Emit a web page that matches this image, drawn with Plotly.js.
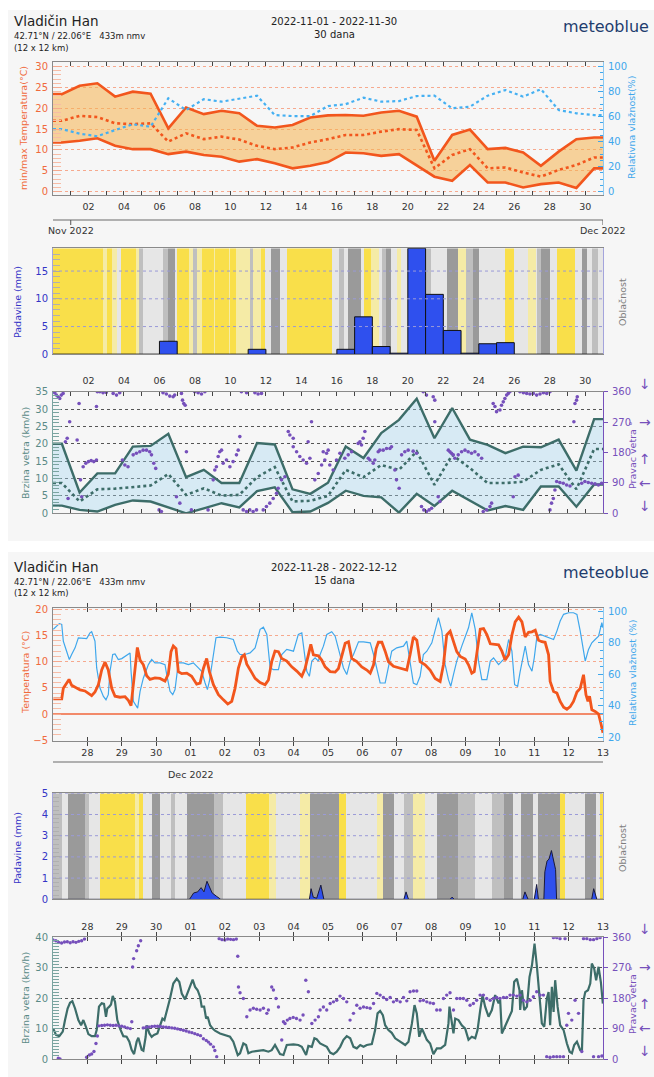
<!DOCTYPE html>
<html><head><meta charset="utf-8">
<script src="https://cdn.plot.ly/plotly-3.0.1.min.js"></script>
<style>html,body{margin:0;padding:0;background:#fff;}#chart{width:654px;height:1077px;}</style>
</head><body><div id="chart"></div>
<script>
// ================= DATA =================
// --- Top chart: 30-day overview, daily values at noon (Oct 31 .. Nov 30) ---
const topTickText = ['02','04','06','08','10','12','14','16','18','20','22','24','26','28','30'];
const tempMax  = [23.4,25.4,26.0,22.8,24.0,23.5,15.2,20.2,18.6,19.4,18.8,15.8,15.4,16.0,17.8,18.3,18.4,18.2,19.0,19.4,18.0,7.4,13.6,14.9,10.2,10.5,9.4,6.2,9.6,12.6,13.0];
const tempMin  = [11.8,12.2,12.8,11.0,10.2,10.2,9.0,9.6,8.8,8.4,7.2,7.8,6.8,5.6,6.2,7.1,9.4,9.2,8.6,9.0,6.4,3.6,2.6,6.4,2.2,2.2,1.0,1.8,2.2,0.9,5.6];
const tempMean = [17.0,18.2,17.9,16.4,16.2,16.4,12.0,14.0,12.6,13.2,12.5,11.0,10.2,10.6,11.8,12.6,13.6,13.6,14.4,15.0,14.8,5.6,8.8,10.2,5.6,5.8,4.6,3.6,5.2,6.4,8.2];
const humidity = [50,46.4,44.3,49.3,53.9,52,74.7,65.3,74,72,74.7,76.8,61.3,60.5,60.5,68.5,70,75.2,72,72.5,76.5,76.8,66.7,68,76.8,81.3,76,82,65.3,62.7,61.3];
const precipDaily = [0,0,0,0,0,0,2.35,0,0,0,0,0.9,0,0,0,0,0.9,6.75,1.4,0.2,19.1,10.8,4.3,0.2,1.9,2.1,0,0,0,0,0];
const windMax  = [20,6.0,11.5,11.5,19.2,19.4,22.9,10.4,12.5,8.7,8.7,20.2,19.8,6.9,5.6,8.8,19.2,15.9,23.1,26.9,33,21.6,30.3,21.2,19.7,17.3,19.2,19.0,21.2,12.3,27.1];
const windMin  = [2.2,1.0,0.5,2.4,3.7,3.4,1.7,0,1.4,2.9,1.7,6.4,7.5,0.3,0.5,3.0,6.5,5.0,4.6,0.2,5.6,2.1,6.5,3.7,0.8,2.1,1.0,7.7,7.7,1.9,8.3];
const windMean = [8.7,3.4,6.9,7.1,7.5,8.0,11.3,5.3,7.2,5.1,5.3,10.4,13.3,3.4,3.6,5.0,12.5,10.4,13.9,12.5,17.8,8.2,16.8,13.0,8.7,8.7,9.1,12.5,14.1,6.9,18.5];
// cloud cover stripes: start (days from Nov 1 00:00) and level 0=clear .. 4=overcast
const cloudTopStart = [-1,1.8,2.05,2.35,2.6,2.84,3.65,3.85,4.1,5.2,5.46,5.87,5.97,6.67,6.9,7.1,7.38,8.05,8.15,8.9,9.0,9.3,10.1,10.3,10.7,10.95,11.3,11.8,12.2,14.7,15.1,15.4,15.6,16.35,16.55,16.9,17.4,17.55,17.75,18.05,18.4,18.6,19.9,20.3,21.2,21.8,22.3,22.7,23.0,24.5,25.0,25.8,26.2,26.3,26.5,27.0,27.4,28.4,28.8,29.1,29.4,29.7];
const cloudTopLevel = [0,1,0,1,2,0,1,3,2,3,4,2,0,1,3,1,0,1,0,1,0,1,3,1,0,2,4,2,0,2,3,2,4,2,0,1,2,3,4,2,1,2,3,2,4,1,3,4,2,0,2,1,2,3,4,2,0,2,4,2,3,2];
// wind direction samples [days from Nov 1 00:00, degrees]
const windDirTop = [[-0.9,357],[-0.81,350],[-0.71,345],[-0.62,340],[-0.53,350],[-0.43,355],[-0.3,212],[-0.2,222],[-0.15,44],[-0.06,271],[0.36,217],[0.47,325],[0.55,99],[0.62,49],[0.7,138],[0.85,148],[1.0,153],[1.15,156],[1.3,153],[1.45,158],[1.45,316],[1.5,360],[1.64,360],[1.82,357],[2.0,358],[2.39,355],[2.58,350],[2.76,357],[2.91,158],[3.05,143],[3.23,138],[3.52,173],[3.7,178],[3.89,182],[4.08,187],[4.27,187],[4.45,182],[4.55,173],[4.68,148],[4.79,133],[4.98,10],[5.11,5],[5.2,357],[5.39,353],[5.58,347],[5.77,345],[5.86,350],[5.96,49],[6.15,30],[6.24,355],[6.3,335],[6.37,325],[6.45,320],[6.52,182],[6.8,10],[6.99,360],[7.18,357],[7.37,353],[7.56,360],[7.74,10],[8.03,99],[8.12,128],[8.21,138],[8.31,168],[8.4,182],[8.5,187],[8.59,148],[8.78,158],[8.97,138],[9.15,153],[9.34,173],[9.44,187],[9.53,227],[9.62,360],[9.72,10],[9.91,357],[9.91,5],[10.09,10],[10.28,5],[10.38,357],[10.47,10],[10.56,353],[10.75,355],[10.85,10],[11.03,20],[11.22,30],[11.41,44],[11.6,59],[11.69,74],[11.88,99],[12.07,108],[12.26,242],[12.35,232],[12.54,222],[12.54,197],[12.73,182],[12.91,168],[13.1,158],[13.29,148],[13.38,212],[13.48,163],[13.57,271],[13.76,99],[13.95,118],[14.14,143],[14.23,182],[14.32,158],[14.42,178],[14.51,187],[14.6,143],[14.79,128],[14.98,158],[15.17,178],[15.45,163],[15.64,173],[15.83,182],[16.2,207],[16.3,212],[16.39,202],[16.48,222],[16.58,242],[16.77,163],[16.86,158],[17.05,148],[17.14,158],[17.33,182],[17.42,187],[17.61,187],[17.8,192],[17.99,192],[18.08,197],[18.27,128],[18.36,99],[18.51,74],[18.65,173],[18.83,182],[19.02,187],[19.3,184],[19.49,178],[19.77,20],[19.87,360],[19.9,10],[20.05,5],[20.05,350],[20.2,10],[20.34,15],[20.43,345],[20.52,335],[20.52,271],[20.71,49],[20.81,35],[21.28,187],[21.37,182],[21.46,178],[21.56,173],[21.65,163],[21.84,173],[22.03,182],[22.22,187],[22.4,182],[22.59,178],[22.78,182],[22.97,173],[23.16,163],[23.25,5],[23.44,10],[23.63,20],[23.72,30],[23.81,325],[23.91,316],[24.0,301],[24.19,306],[24.28,320],[24.38,330],[24.47,340],[24.57,350],[24.66,355],[24.75,360],[24.94,49],[25.04,108],[25.22,113],[25.32,360],[25.51,357],[25.7,355],[25.88,353],[26.07,355],[26.26,350],[26.45,353],[26.64,357],[26.83,355],[27.01,360],[27.01,10],[27.1,30],[27.2,44],[27.29,69],[27.39,94],[27.57,91],[27.76,89],[27.95,84],[28.14,81],[28.36,271],[28.42,325],[28.51,335],[28.55,345],[28.8,89],[28.98,94],[29.17,91],[29.36,89],[29.55,87],[29.74,84],[29.92,89]];

// --- Bottom chart: 15-day hourly, [hours from Nov 27 00:00, value] ---
const botTickText = ['28','29','30','01','02','03','04','05','06','07','08','09','10','11','12','13'];
const tempHourly = [[0.2,2.9],[6.1,2.9],[7.2,4.9],[9.5,5.9],[11.2,6.6],[13,5.5],[15.4,5.1],[18.9,4.6],[22.3,4.4],[24.7,4.0],[27,3.5],[29.3,4.2],[31.7,5.6],[34,8.4],[36.3,9.9],[38.6,8.4],[41,4.9],[43.3,3.4],[46.8,3.2],[50.3,3.3],[52.6,2.6],[54.5,1.6],[55.6,4.6],[57.3,8.7],[58.9,12.7],[60.8,10.3],[63.1,9.4],[65.4,7.3],[67.7,6.6],[71.2,6.9],[74.7,6.8],[78.2,6.3],[80.5,7.6],[82.4,11.9],[84,13.0],[85.9,12.5],[87.5,8.1],[89.9,7.7],[93.4,7.8],[96.8,7.2],[100.3,5.7],[102.7,5.9],[105,8.7],[107.3,10.6],[109.2,8.1],[112,5.6],[115.5,3.7],[119,2.7],[122,1.9],[124.8,2.4],[127.1,4.9],[129.4,8.7],[131.8,10.9],[133.6,11.3],[135.3,9.5],[138.8,7.9],[141.1,6.8],[144.6,6.0],[148.1,5.6],[150.4,6.5],[152.7,10.0],[155,12.0],[157.4,11.9],[159.7,10.6],[163.2,10.1],[166.7,9.0],[170.2,8.2],[173.7,7.2],[176,8.7],[178.3,11.3],[180,13.3],[181.8,11.3],[185.3,11.1],[187.6,10.3],[190,9.0],[193.5,8.1],[197,8.0],[199.3,8.7],[201.6,11.3],[204,13.5],[206.3,13.8],[208.6,10.6],[212.1,10.0],[215.6,9.0],[219.1,8.4],[221.5,7.8],[223.8,9.4],[225.6,12.5],[227.2,13.7],[229.6,13.7],[231.9,12.0],[234.2,10.0],[237.7,9.1],[242.3,8.7],[247,8.4],[249.3,11.3],[251.6,14.7],[254,14.1],[256.3,10.0],[259.8,9.4],[263.3,8.4],[266.8,6.8],[270.3,6.2],[272.6,9.4],[274.9,15.1],[277.3,15.8],[279.6,13.8],[281.9,11.9],[284.3,11.0],[287.8,10.5],[290.1,9.4],[292.4,7.8],[294.1,8.1],[296,11.9],[298.3,16.2],[300.6,16.3],[303,15.1],[305.3,13.4],[307.6,13.3],[311.1,13.2],[313.4,12.0],[315.7,10.3],[318.1,11.3],[320.4,15.1],[322.7,17.6],[325.1,18.5],[327.4,17.6],[329.7,14.7],[332,15.6],[334.4,15.7],[336.7,16.0],[339,14.1],[341.3,13.8],[343.6,13.7],[346,11.3],[347.1,6.2],[349.5,4.3],[351.8,4.0],[354.1,2.4],[356.5,1.3],[358.8,0.9],[361.1,1.4],[363.4,2.4],[365.8,4.2],[368.1,4.9],[370.4,7.5],[372.1,3.7],[373.5,2.4],[374.6,3.4],[376.2,0.8],[378.5,0.5],[380.9,0.0],[382.7,-2.0],[384,-3.6]];
const humHourly = [[0.2,88.4],[2.6,90.5],[4.4,92],[6.1,91.5],[7.2,81],[9.5,74.6],[11.4,69.3],[13,72.5],[15.4,76.7],[17.7,83],[21.2,83],[23.5,82.6],[25.8,86.2],[27,86.9],[29.3,81],[30.5,64],[32.8,51.3],[35.2,46],[37,43.9],[38.6,47.1],[39.8,61.9],[41.7,72.5],[43.3,72.9],[45.6,69.3],[48,69.9],[50.3,71.4],[53.8,73.5],[54.5,61.9],[56.1,42.9],[59.1,38.6],[60.8,49.2],[63.1,57.7],[66.6,66.1],[68.9,69.3],[71.2,67.2],[74.7,67.2],[78.2,66.1],[79.4,59.8],[81.7,49.2],[83.6,47.1],[85.2,50.3],[87.5,67.2],[91,67.2],[94.5,66.1],[98,67.2],[101.5,64],[103.8,61.9],[106.2,54.5],[107.8,50.3],[109.2,55.6],[111.5,70.4],[113.8,83.1],[116.6,83.5],[121.3,83.1],[125.9,82],[128.7,74.6],[130.6,72.5],[134.1,72.5],[137.6,73.5],[141.1,76.7],[144.6,88.4],[146.9,89.8],[149.3,85.2],[151.6,64],[153.9,63],[157.4,63],[159.7,72.5],[163.2,75.7],[167.9,74.6],[171.3,85.2],[173.7,86.2],[175.3,74.6],[177.2,61.9],[179,58.7],[180.7,68.3],[183,70.4],[185.3,68.3],[186.5,72.5],[188.8,77.8],[191.2,85.2],[194.6,86.9],[197,84.1],[199.3,75.7],[202.8,64],[205.1,59.8],[207.5,68.3],[209.8,72.5],[213.3,80.5],[216.8,80.5],[221.5,79.9],[223.8,72.5],[226.1,63],[228.4,54.5],[231.9,54.5],[234.2,64],[236.5,74.6],[240,76.7],[244.7,77.8],[247,81],[249.3,66.1],[251.6,54.5],[254,53.4],[256.3,58.7],[258.6,72.5],[261,74.6],[264.5,79.9],[266.8,87.3],[269.1,95.8],[271.5,87.3],[273.8,66.1],[276.1,56.6],[277.7,52.4],[279.6,59.8],[281.9,68.3],[285.4,77.8],[287.8,83.1],[290.1,89.4],[292.4,98.9],[294.8,88.4],[297.1,68.3],[299.4,56.6],[302.9,56.6],[305.3,68.3],[307.6,70.4],[311.1,66.1],[313.4,68.3],[315.7,70.4],[318.1,82],[320.4,74.6],[322.3,53.4],[324.4,52.4],[326.2,61.9],[329.7,77.8],[332,66.1],[334.4,61.9],[336,70.4],[337.9,84.1],[340.2,85.2],[343.6,84.1],[347.1,83.1],[349.5,82],[351.8,87.3],[354.1,93.7],[356.5,97.9],[360,98.9],[363.4,98.9],[365.8,97.9],[368.1,87.3],[370.4,74.6],[371.6,68.3],[373.9,75.7],[376.2,79.9],[378.5,82],[380.9,84.1],[383.2,92.6],[384,89.4]];
const precipHourly = [[0,0],[95.3,0],[98.2,0.3],[101,0.35],[103.4,0.55],[105.4,0.35],[107.5,0.85],[109.2,0.6],[111.1,0.3],[114,0.15],[117.1,0],[179,0],[180.2,0.5],[181.7,0.1],[184.1,0.05],[187,0.67],[189.1,0],[245,0],[246.5,0.35],[248.2,0],[277.2,0],[278.6,0.1],[280.1,0],[328,0],[329.5,0.35],[331.7,0],[336,0],[337.7,0.7],[338.9,0],[342.7,0],[343.4,1.3],[344.9,1.8],[346.3,1.9],[348,2.3],[349.4,1.8],[350.9,1.4],[351.6,0],[376.1,0],[377.5,0.5],[379.7,0],[384,0]];
const cloudBotStart = [0,0.27,0.45,0.93,1.06,1.36,2.39,2.51,2.63,2.87,3.12,3.42,3.54,3.9,4.69,4.94,5.6,6.27,6.48,7.18,7.48,8.33,8.52,9.42,9.6,9.91,10.21,10.46,10.82,11.18,11.79,12.28,12.76,13.12,13.37,13.61,13.97,14.1,14.76,14.88,15.49,15.79,15.92];
const cloudBotLevel = [3,2,4,3,2,0,1,0,2,4,2,3,2,4,3,2,0,1,2,1,4,0,2,1,4,2,3,1,2,4,3,2,3,4,2,4,2,4,0,2,4,2,0];
const windHourly = [[0.2,10],[2.1,7.9],[4.4,7.5],[6.8,9.0],[8.4,12.8],[10.2,16.6],[11.9,18.5],[13.5,19.0],[15.4,16.6],[17.7,12.8],[19.6,11.1],[21.2,12.8],[23,10.6],[24.7,8.2],[27,7.5],[29.3,7.5],[30.5,9.5],[32.1,17.2],[34,18.3],[35.6,18.1],[37,13.9],[37.9,16.6],[39.3,17.2],[40.5,17.9],[41.7,20.7],[43.3,18.8],[44.9,12.8],[46.8,10],[49.1,7.5],[51.4,7.3],[53.3,5.7],[54.9,3.0],[56.6,1.6],[58.4,5.7],[59.6,7.0],[60.8,5.1],[61.9,3.0],[63.1,2.7],[64.7,7.3],[65.4,11.1],[67.3,8.4],[68.9,7.3],[70.5,7.9],[72.9,8.4],[74.7,10.6],[76.4,13.3],[77.8,12.8],[79.4,15.5],[81.7,19.9],[84,24.8],[86.4,26.4],[88.2,25.3],[89.9,21.5],[92.2,19.6],[94,21.8],[95.7,24.3],[97.5,26.1],[99.2,23.7],[101,22.6],[102.7,20.4],[103.8,17.2],[105.5,17.2],[106.9,13.3],[108,13.9],[109.7,11.1],[111.5,10.0],[113.1,9.3],[116.6,8.4],[120.1,7.9],[123.6,7.3],[125.9,5.7],[127.6,3.0],[129,1.3],[130.6,1.9],[132.9,5.1],[134.8,4.6],[136.4,1.9],[138.8,2.4],[142.2,2.7],[146.9,2.9],[150.4,2.4],[152.7,2.9],[155,4.6],[156.7,2.9],[158.5,1.6],[160.9,1.3],[163.2,4.6],[167.9,4.8],[171.3,4.6],[173.7,4.0],[175.5,2.4],[176.7,1.3],[178.3,4.3],[180.7,4.0],[182.5,6.8],[184.1,6.5],[186.5,5.1],[188.8,4.6],[191.2,4.0],[193.5,2.1],[195.8,1.6],[198.1,2.4],[200.5,4.0],[202.8,6.3],[205.1,7.5],[207.5,6.8],[209.8,4.0],[212.1,3.5],[214.5,4.6],[216.8,4.0],[219.1,4.6],[222.6,4.9],[224.9,9.5],[226.6,15],[228.4,15.8],[230.3,14.4],[231.9,11.1],[234.2,9.5],[236.5,8.6],[238.9,6.8],[242.4,5.7],[245.9,4.6],[248.2,5.7],[250.6,11.7],[252.4,17.7],[254,15],[255.7,7.3],[257.5,10],[259.1,8.4],[261,6.3],[263.3,5.1],[265.6,1.6],[268,3.5],[270.7,3.5],[273.8,4.6],[276.1,11.7],[276.8,17.2],[278.5,11.1],[279.6,8.4],[280.8,13.3],[283.1,12.8],[285.4,11.1],[287.8,10],[290.1,6.3],[292.4,7.3],[294.8,6.8],[296.4,9.5],[298.3,16.1],[299.9,21],[301.7,17.2],[304.1,13.9],[306.4,16.1],[308.7,21],[311.1,18.3],[312.2,19.4],[313.4,8.4],[315.7,10.9],[318.1,13.6],[320.4,15.8],[322,25.4],[323.9,26.4],[325.7,22.6],[326.2,16.1],[327.4,22.6],[329,16.1],[330.9,17.2],[332.7,27],[334.4,30.8],[336.2,37.9],[337.9,30.2],[339.8,19.3],[341.3,11.7],[343,10.6],[344.8,19.9],[346,22],[347.1,11.1],[348.3,23.7],[349.5,15.5],[350.6,25.9],[352.3,17.2],[354.1,11.1],[356.5,9.5],[358.8,5.1],[360.7,2.4],[362.3,1.9],[363.9,4.6],[365.8,5.7],[368.1,2.9],[369.3,2.9],[370.4,19.3],[371.6,22],[373.5,22.6],[375.1,24.8],[376.2,31.4],[377.8,29.8],[379.2,25.9],[380.9,30.3],[382.5,25.3],[383.9,18.2]];
const windDirHourly = [[0,352],[2,350],[3.7,2],[4,345],[4.9,0],[6,343],[8,346],[10,347],[12,344],[14,347],[16,345],[18,348],[20,350],[22,355],[23.5,5],[25.4,12],[27,15],[28.6,22],[30,46],[31,68],[32,98],[34,99],[36,100],[38,101],[40,100],[42,99],[44,100],[46,98],[48,97],[50,95],[52,92],[54,90],[55,110],[55.6,272],[56.3,297],[58.4,320],[59.6,335],[61.2,350],[63,92],[65,94],[67,95],[69,96],[71,97],[73,97],[75,96],[77,95],[79,94],[81,93],[83,92],[85,91],[87,89],[89,87],[91,85],[93,83],[95,80],[97,78],[99,75],[101,72],[103,69],[105,60],[107,55],[108.5,50],[110,44],[112,36],[113,25],[114.3,7],[116,356],[118,353],[120,352],[122,355],[124,354],[126,353],[128,355],[129,304],[129.5,213],[130.6,196],[132.9,179],[135.3,125],[137.6,145],[139.9,150],[142.2,147],[144.6,145],[146.9,150],[149.3,135],[150.4,145],[152.7,213],[153.9,204],[155.7,179],[157.4,154],[159.7,56],[160.9,110],[162,105],[163.6,115],[165.4,120],[167.7,123],[170,120],[172.5,115],[174.6,130],[176.5,233],[178.3,199],[180.7,105],[183,115],[185.3,125],[186.5,145],[188.8,154],[191.1,145],[193.5,164],[195.8,169],[198.1,174],[200.4,186],[202.8,179],[205.1,169],[207.4,115],[209.8,135],[212.1,159],[214.4,150],[216.8,154],[219.1,152],[221.4,150],[223.8,164],[226.1,194],[228.4,189],[230.7,182],[233,176],[235.4,182],[237.7,169],[240,174],[242.4,169],[244.7,182],[247,172],[249.3,199],[251.7,201],[254,201],[256.3,172],[258.6,174],[261,169],[263.3,166],[265.6,164],[267.9,145],[270.3,145],[272.6,179],[274.9,189],[277.2,196],[279.6,145],[281.9,179],[284.2,179],[286.5,179],[288.9,174],[291.2,159],[293.5,164],[295.8,174],[298.2,189],[300.5,189],[302.8,179],[305.2,174],[307.5,179],[309.8,182],[312.1,179],[314.5,182],[316.8,182],[319.1,189],[321.4,189],[323.8,186],[326.1,189],[328.4,174],[330.8,169],[333.1,174],[335.4,184],[337.7,199],[340.1,189],[342.4,189],[344.7,7],[347,5],[349.4,7],[349.4,359],[351.7,7],[351.7,359],[354,7],[354,356],[356.4,7],[357.5,356],[358.7,100],[359.9,135],[362.2,115],[364.5,174],[366.9,135],[369.2,22],[370.4,356],[372.7,356],[375.1,353],[377.4,353],[377.4,7],[379.7,356],[380.9,7],[382,359],[383.2,9]];

// ================= HELPERS =================
const W = 654, H = 1077;
const px = X => X / W;
const py = Y => 1 - Y / H;
const FONT = 'DejaVu Sans, Verdana, sans-serif';
const C = {temp:'#f2561d', tempLab:'#f06a3c', tempGrid:'#f6a98e', hum:'#3fa7ec', prec:'#3434c6',
  wind:'#3d6d69', windLab:'#5a8a86', dir:'#7650bb', cloudLab:'#7d7d7d', axis:'#8a8a8a', tick:'#333'};
const cloudColors = ['#f9df4a','#f5eba6','#e6e6e6','#bfbfbf','#9a9a9a'];
const cloudScale = [];
cloudColors.forEach((c, i) => { cloudScale.push([i/5, c]); cloudScale.push([(i+1)/5, c]); });

const xDom = [px(53), px(603)];
const D1 = [py(195), py(62.3)];
const D2 = [py(354.3), py(248.3)];
const D3 = [py(513.3), py(391.7)];
const D4 = [py(740.7), py(607.7)];
const D5 = [py(899.3), py(793.3)];
const D6 = [py(1059), py(937.3)];

const TOP_RANGE = [-1, 30];
const BOT_RANGE = [0, 16];

const aliasTop = {'\u22121':' ', '-1':' '};
topTickText.forEach((t, i) => { aliasTop[String(1 + 2*i)] = t; });
const aliasBot = {'0':' '};
botTickText.forEach((t, i) => { aliasBot[String(i + 1)] = t; });

const noon = tempMax.map((_, i) => i - 0.5);
const extX = [TOP_RANGE[0], ...noon, TOP_RANGE[1]];
const ext = a => [a[0], ...a, a[a.length-1]];
const col = (arr, k) => arr.map(p => p[k]);
const hrs = arr => arr.map(p => p[0] / 24);

function gridLine(xa, ya, range, yv, color, dash) {
  return {type:'scatter', mode:'lines', xaxis:xa, yaxis:ya, x:[range[0], range[1]], y:[yv, yv],
    line:{color:color, width:1, dash:dash}, hoverinfo:'skip', showlegend:false};
}

// ================= TRACES =================
const traces = [];
traces.push({type:'scatter', mode:'lines', x:extX, y:ext(tempMax), xaxis:'x', yaxis:'y',
  line:{color:C.temp, width:2.6}, hoverinfo:'skip'});
traces.push({type:'scatter', mode:'lines', x:extX, y:ext(tempMin), xaxis:'x', yaxis:'y',
  line:{color:C.temp, width:2.6}, fill:'tonexty', fillcolor:'rgba(246,178,78,0.55)', hoverinfo:'skip'});
traces.push({type:'scatter', mode:'lines', x:extX, y:ext(tempMean), xaxis:'x', yaxis:'y',
  line:{color:C.temp, width:2.6, dash:'dot'}, hoverinfo:'skip'});
traces.push({type:'scatter', mode:'lines', x:extX, y:ext(humidity), xaxis:'x', yaxis:'y2',
  line:{color:'#45b0f2', width:2.2, dash:'dot'}, hoverinfo:'skip'});

traces.push({type:'heatmap', xaxis:'x2', yaxis:'y3', x:[...cloudTopStart, TOP_RANGE[1]], y:[0, 19.1],
  z:[cloudTopLevel], zmin:-0.5, zmax:4.5, colorscale:cloudScale, showscale:false, hoverinfo:'skip'});
[5,10,15].forEach(v => traces.push(gridLine('x2','y3',TOP_RANGE,v,'#9a9ad8','dot')));
traces.push({type:'bar', xaxis:'x2', yaxis:'y3', x:noon, y:precipDaily, width:1,
  marker:{color:'#2f50ee', line:{color:'#111', width:1}}, hoverinfo:'skip'});

traces.push({type:'scatter', mode:'lines', x:extX, y:ext(windMax), xaxis:'x3', yaxis:'y4',
  line:{color:C.wind, width:2.4}, hoverinfo:'skip'});
traces.push({type:'scatter', mode:'lines', x:extX, y:ext(windMin), xaxis:'x3', yaxis:'y4',
  line:{color:C.wind, width:2.4}, fill:'tonexty', fillcolor:'rgba(165,215,242,0.38)', hoverinfo:'skip'});
traces.push({type:'scatter', mode:'lines', x:extX, y:ext(windMean), xaxis:'x3', yaxis:'y4',
  line:{color:C.wind, width:2.6, dash:'dot'}, hoverinfo:'skip'});
traces.push({type:'scatter', mode:'markers', x:col(windDirTop,0), y:col(windDirTop,1), xaxis:'x3', yaxis:'y5',
  marker:{color:C.dir, size:3.6}, hoverinfo:'skip'});

traces.push({type:'scatter', mode:'lines', x:hrs(humHourly), y:col(humHourly,1), xaxis:'x4', yaxis:'y6',
  line:{color:C.hum, width:1.2}, hoverinfo:'skip'});
traces.push({type:'scatter', mode:'lines', x:hrs(tempHourly), y:col(tempHourly,1), xaxis:'x4', yaxis:'y7',
  line:{color:C.temp, width:2.8}, hoverinfo:'skip'});

traces.push({type:'heatmap', xaxis:'x5', yaxis:'y8', x:[...cloudBotStart, BOT_RANGE[1]], y:[0, 5],
  z:[cloudBotLevel], zmin:-0.5, zmax:4.5, colorscale:cloudScale, showscale:false, hoverinfo:'skip'});
[1,2,3,4,5].forEach(v => traces.push(gridLine('x5','y8',BOT_RANGE,v,'#9a9ad8','dot')));
traces.push({type:'scatter', mode:'lines', x:hrs(precipHourly), y:col(precipHourly,1), xaxis:'x5', yaxis:'y8',
  line:{color:'#1a1a3a', width:1}, fill:'tozeroy', fillcolor:'#2f50ee', hoverinfo:'skip'});

traces.push({type:'scatter', mode:'markers', x:hrs(windDirHourly), y:col(windDirHourly,1), xaxis:'x6', yaxis:'y10',
  marker:{color:C.dir, size:3.4}, hoverinfo:'skip'});
traces.push({type:'scatter', mode:'lines', x:hrs(windHourly), y:col(windHourly,1), xaxis:'x6', yaxis:'y9',
  line:{color:C.wind, width:2.2}, hoverinfo:'skip'});

// ================= AXES =================
const tickF = {family:FONT, size:9.5, color:C.tick};
function dayAxis(anchor, range, alias, side, dtick, tick0, minorOn) {
  const a = {domain:xDom, anchor:anchor, range:range, side:side, tickmode:'linear', tick0:tick0, dtick:dtick,
    labelalias:alias, ticks:'inside', ticklen:4, tickcolor:'#444', tickwidth:1, showline:true, linecolor:C.axis,
    mirror:'allticks', showgrid:false, zeroline:false, tickfont:tickF, fixedrange:true, ticklabelstandoff:3};
  if (minorOn) a.minor = {ticks:'inside', ticklen:4, dtick:1, tick0:0, tickcolor:'#444', showgrid:false};
  return a;
}
function plainX(anchor, range) {
  return {domain:xDom, anchor:anchor, range:range, showticklabels:false, ticks:'', showgrid:false,
    zeroline:false, showline:true, linecolor:C.axis, mirror:true, fixedrange:true};
}
function valAxis(o) {
  return Object.assign({tickmode:'linear', ticks:'inside', ticklen:8, tickwidth:1, showline:true,
    zeroline:false, fixedrange:true, ticklabelstandoff:2}, o);
}

const layout = {
  width:W, height:H, margin:{l:0,r:0,t:0,b:0}, paper_bgcolor:'#ffffff', plot_bgcolor:'rgba(0,0,0,0)',
  showlegend:false, font:{family:FONT, size:10, color:'#222'}, barmode:'overlay',
  xaxis: dayAxis('y', TOP_RANGE, aliasTop, 'bottom', 2, 1, true),
  yaxis: valAxis({domain:D1, anchor:'x', range:[-0.8,31.04], tick0:0, dtick:5, tickcolor:C.tempGrid,
    minor:{ticks:'inside', ticklen:8, dtick:1, tickcolor:'#f7bca6'}, showgrid:true, gridcolor:C.tempGrid,
    griddash:'dot', linecolor:C.axis, mirror:false, tickfont:{family:FONT, size:10, color:C.tempLab}}),
  yaxis2: valAxis({overlaying:'y', side:'right', anchor:'x', range:[-2.67,103.5], tick0:0, dtick:20, ticklen:5,
    tickcolor:C.hum, minor:{ticks:'inside', ticklen:3, dtick:5, tickcolor:C.hum}, showgrid:false,
    linecolor:'#8cc9f2', tickfont:{family:FONT, size:10, color:C.hum}}),
  xaxis2: plainX('y3', TOP_RANGE),
  yaxis3: valAxis({domain:D2, anchor:'x2', range:[0,19.1], tick0:0, dtick:5, ticklen:7, tickcolor:'#aaa',
    minor:{ticks:'inside', ticklen:7, dtick:1, tickcolor:'#b0b0b0'}, showgrid:false, linecolor:'#a4a4dc',
    mirror:true, tickfont:{family:FONT, size:10, color:C.prec}}),
  xaxis3: dayAxis('y4', TOP_RANGE, aliasTop, 'top', 2, 1, true),
  yaxis4: valAxis({domain:D3, anchor:'x3', range:[0,35], tick0:0, dtick:5, ticklen:8, tickcolor:'#7aa4a0',
    minor:{ticks:'inside', ticklen:6, dtick:1, tickcolor:'#7aa4a0'}, showgrid:true, gridcolor:'#555',
    griddash:'3px,3px', linecolor:'#7aa4a0', tickfont:{family:FONT, size:10, color:C.windLab}}),
  yaxis5: valAxis({overlaying:'y4', side:'right', anchor:'x3', range:[0,360], tick0:0, dtick:90, ticks:'outside',
    ticklen:4, tickcolor:C.dir, showgrid:false, linecolor:C.dir, tickfont:{family:FONT, size:10, color:C.dir}}),
  xaxis4: dayAxis('y6', BOT_RANGE, aliasBot, 'bottom', 1, 0, false),
  yaxis6: valAxis({domain:D4, anchor:'x4', side:'right', range:[18,102.1], tick0:0, dtick:20, ticklen:5,
    tickcolor:C.hum, minor:{ticks:'inside', ticklen:3, dtick:5, tickcolor:C.hum}, showgrid:false,
    linecolor:'#8cc9f2', tickfont:{family:FONT, size:10, color:C.hum}}),
  yaxis7: valAxis({overlaying:'y6', side:'left', anchor:'x4', range:[-5.1,20.3], tick0:0, dtick:5,
    tickcolor:C.tempGrid, minor:{ticks:'inside', ticklen:8, dtick:1, tickcolor:'#f7bca6'}, showgrid:true,
    gridcolor:C.tempGrid, griddash:'dot', zeroline:true, zerolinecolor:'#f28a6a', zerolinewidth:1.6,
    linecolor:C.axis, tickfont:{family:FONT, size:10, color:C.tempLab}}),
  xaxis5: plainX('y8', BOT_RANGE),
  yaxis8: valAxis({domain:D5, anchor:'x5', range:[0,5], tick0:0, dtick:1, ticklen:7, tickcolor:'#aaa',
    minor:{ticks:'inside', ticklen:6, dtick:0.2, tickcolor:'#b0b0b0'}, showgrid:false, linecolor:'#a4a4dc',
    mirror:true, tickfont:{family:FONT, size:10, color:C.prec}}),
  xaxis6: dayAxis('y9', BOT_RANGE, aliasBot, 'top', 1, 0, false),
  yaxis9: valAxis({domain:D6, anchor:'x6', range:[0,40], tick0:0, dtick:10, ticklen:8, tickcolor:'#7aa4a0',
    minor:{ticks:'inside', ticklen:6, dtick:1, tickcolor:'#7aa4a0'}, showgrid:true, gridcolor:'#555',
    griddash:'3px,3px', linecolor:'#7aa4a0', tickfont:{family:FONT, size:10, color:C.windLab}}),
  yaxis10: valAxis({overlaying:'y9', side:'right', anchor:'x6', range:[0,360], tick0:0, dtick:90, ticks:'outside',
    ticklen:4, tickcolor:C.dir, showgrid:false, linecolor:C.dir, tickfont:{family:FONT, size:10, color:C.dir}}),
  shapes: [], annotations: []
};

layout.shapes.push({type:'rect', xref:'paper', yref:'paper', x0:px(8), x1:1, y0:py(541), y1:py(10),
  fillcolor:'#f6f6f6', line:{width:0}, layer:'below'});
layout.shapes.push({type:'rect', xref:'paper', yref:'paper', x0:px(8), x1:1, y0:0, y1:py(552),
  fillcolor:'#f6f6f6', line:{width:0}, layer:'below'});
layout.shapes.push({type:'line', xref:'x', yref:'paper', x0:TOP_RANGE[0], x1:TOP_RANGE[1], y0:py(220), y1:py(220),
  line:{color:'#999', width:1.5}});
[0, 30].forEach(v => layout.shapes.push({type:'line', xref:'x', yref:'paper', x0:v, x1:v, y0:py(220), y1:py(225),
  line:{color:'#555', width:1}}));
layout.shapes.push({type:'line', xref:'x4', yref:'paper', x0:BOT_RANGE[0], x1:BOT_RANGE[1], y0:py(762), y1:py(762),
  line:{color:'#999', width:1.5}});

function ann(text, X, Y, o) {
  return Object.assign({xref:'paper', yref:'paper', x:px(X), y:py(Y), text:text, showarrow:false,
    xanchor:'left', yanchor:'middle', font:{family:FONT, size:9, color:'#222'}}, o || {});
}
const A = layout.annotations;
A.push({xref:'x', yref:'paper', x:0, y:py(231), text:'Nov 2022', showarrow:false, xanchor:'center', yanchor:'middle', font:{family:FONT,size:9.5,color:'#333'}});
A.push({xref:'x', yref:'paper', x:30, y:py(231), text:'Dec 2022', showarrow:false, xanchor:'center', yanchor:'middle', font:{family:FONT,size:9.5,color:'#333'}});
A.push({xref:'x4', yref:'paper', x:4, y:py(774), text:'Dec 2022', showarrow:false, xanchor:'center', yanchor:'middle', font:{family:FONT,size:9.5,color:'#333'}});

function header(y0, range, days) {
  A.push(ann('Vladičin Han', 12, y0, {font:{family:FONT, size:13.5, color:'#222'}}));
  A.push(ann('42.71°N / 22.06°E&nbsp;&nbsp;&nbsp;433m nmv', 12, y0+14.5, {font:{family:FONT, size:8.5, color:'#222'}}));
  A.push(ann('(12 x 12 km)', 12, y0+26, {font:{family:FONT, size:8.5, color:'#222'}}));
  A.push(ann(range, 334, y0, {xanchor:'center', font:{family:FONT, size:10, color:'#222'}}));
  A.push(ann(days, 334, y0+13, {xanchor:'center', font:{family:FONT, size:10, color:'#222'}}));
  A.push(ann('meteoblue', 651, y0+5.5, {xanchor:'right', font:{family:FONT, size:16, color:'#1f3d6e'}}));
}
header(21.5, '2022-11-01 - 2022-11-30', '30 dana');
header(567, '2022-11-28 - 2022-12-12', '15 dana');

const rot = (text, X, Y, color, size) => ann(text, X, Y, {xanchor:'center', textangle:-90, font:{family:FONT, size:size||9.5, color:color}});
A.push(rot('min/max Temperatura(°C)', 23, 128, C.tempLab));
A.push(rot('Relativna vlažnost(%)', 631, 128, C.hum));
A.push(rot('Padavine (mm)', 17, 302, C.prec));
A.push(rot('Oblačnost', 622, 302, C.cloudLab));
A.push(rot('Brzina vetra (km/h)', 25, 453, C.windLab));
A.push(rot('Pravac vetra °', 632, 455, C.dir));
A.push(rot('Temperatura (°C)', 25, 673, C.tempLab));
A.push(rot('Relativna vlažnost (%)', 632, 673, C.hum));
A.push(rot('Padavine (mm)', 17, 848, C.prec));
A.push(rot('Oblačnost', 622, 848, C.cloudLab));
A.push(rot('Brzina vetra (km/h)', 25, 998, C.windLab));
A.push(rot('Pravac vetra °', 632, 1000, C.dir));

function arrows(ys) {
  const sym = ['↓','→','↑','←','↓'];
  sym.forEach((s, i) => A.push(ann(s, 645, ys[i], {xanchor:'center', font:{family:FONT, size:14, color:C.dir}})));
}
arrows([384, 422, 459, 483, 506]);
arrows([929, 967, 1004, 1028, 1051]);

Plotly.newPlot('chart', traces, layout, {staticPlot:true, displayModeBar:false});
</script>
</body></html>
